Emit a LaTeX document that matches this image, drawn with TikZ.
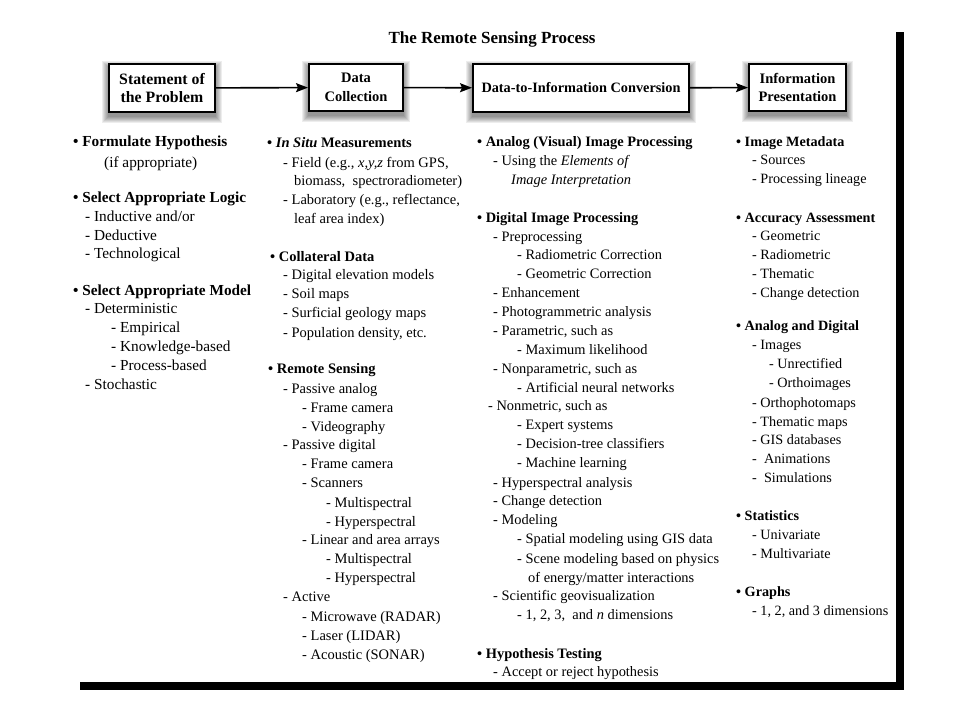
\documentclass[tikz,border=0pt]{standalone}
\usepackage{fontspec}
\setmainfont{Liberation Serif}
\usetikzlibrary{arrows.meta,backgrounds}
\newcommand\colAfont{\fontsize{15.3}{18}\selectfont}
\newcommand\colBfont{\fontsize{14.5}{18}\selectfont}
\newcommand\colCfont{\fontsize{14.4}{18}\selectfont}
\newcommand\colDfont{\fontsize{14.2}{18}\selectfont}
\begin{document}
\begin{tikzpicture}[x=1pt,y=-1pt,
  txt/.style={anchor=base west,inner sep=0pt},
  ta/.style={txt,font=\colAfont},
  tb/.style={txt,font=\colBfont},
  tc/.style={txt,font=\colCfont},
  td/.style={txt,font=\colDfont},
  stage/.style={draw=black,line width=2pt,fill=white,inner sep=0pt,align=center,
    font=\bfseries\fontsize{14.5}{18.5}\selectfont},
  arr/.style={line width=1.6pt,-{Stealth[length=12pt,width=9pt,inset=2pt]}}]
\useasboundingbox (0,0) rectangle (960,720);

\node[font=\bfseries\fontsize{17}{20}\selectfont,anchor=base] (title) at (492,43) {The Remote Sensing Process};

\node[stage,minimum width=106pt,minimum height=48pt,font=\bfseries\fontsize{15.8}{18.5}\selectfont] (b1) at (162,88) {Statement of\\the Problem};
\node[stage,minimum width=94pt,minimum height=47pt] (b2) at (356,87.5) {Data\\Collection};
\node[stage,minimum width=216pt,minimum height=48pt,font=\bfseries\fontsize{14.3}{18.5}\selectfont] (b3) at (581,88) {Data-to-Information Conversion};
\node[stage,minimum width=97pt,minimum height=47pt] (b4) at (797.5,87.5) {Information\\Presentation};

\draw[arr] (b1) -- (b2);
\draw[arr] (b2) -- (b3);
\draw[arr] (b3) -- (b4);

% column 1
\foreach \x/\y/\lbl [count=\i] in {
 73/146/{\textbf{• Formulate Hypothesis}},
 104/167/{(if appropriate)},
 73/202/{\textbf{• Select Appropriate Logic}},
 85/221/{- Inductive and/or},
 85/240/{- Deductive},
 85/258/{- Technological},
 73/295/{\textbf{• Select Appropriate Model}},
 85/313/{- Deterministic},
 111/332/{- Empirical},
 111/351/{- Knowledge-based},
 111/370/{- Process-based},
 85/389/{- Stochastic}}
 {\node[ta] (a\i) at (\x,\y) {\lbl};}

% column 2
\foreach \x/\y/\lbl [count=\i] in {
 267/147/{\textbf{• \textit{In Situ} Measurements}},
 283/167/{- Field (e.g., \textit{x,y,z} from GPS,},
 294/185/{biomass,\ \ spectroradiometer)},
 283/204/{- Laboratory (e.g., reflectance,},
 294/223/{leaf area index)},
 270/261/{\textbf{• Collateral Data}},
 283/279/{- Digital elevation models},
 283/298/{- Soil maps},
 283/317/{- Surficial geology maps},
 283/337/{- Population density, etc.},
 268/373/{\textbf{• Remote Sensing}},
 283/393/{- Passive analog},
 302/412/{- Frame camera},
 302/431/{- Videography},
 283/449/{- Passive digital},
 302/468/{- Frame camera},
 302/487/{- Scanners},
 326/507/{- Multispectral},
 326/526/{- Hyperspectral},
 302/544/{- Linear and area arrays},
 326/563/{- Multispectral},
 326/582/{- Hyperspectral},
 283/601/{- Active},
 302/621/{- Microwave (RADAR)},
 302/640/{- Laser (LIDAR)},
 302/659/{- Acoustic (SONAR)}}
 {\node[tb] (m\i) at (\x,\y) {\lbl};}

% column 3
\foreach \x/\y/\lbl [count=\i] in {
 477/146/{\textbf{• Analog (Visual) Image Processing}},
 493/165/{- Using the \textit{Elements of}},
 511/184/{\textit{Image Interpretation}},
 477/222/{\textbf{• Digital Image Processing}},
 493/241/{- Preprocessing},
 517/259/{- Radiometric Correction},
 517/278/{- Geometric Correction},
 493/297/{- Enhancement},
 493/316/{- Photogrammetric analysis},
 493/335/{- Parametric, such as},
 517/354/{- Maximum likelihood},
 493/373/{- Nonparametric, such as},
 517/392/{- Artificial neural networks},
 488/410/{- Nonmetric, such as},
 517/429/{- Expert systems},
 517/448/{- Decision-tree classifiers},
 517/467/{- Machine learning},
 493/487/{- Hyperspectral analysis},
 493/505/{- Change detection},
 493/524/{- Modeling},
 517/543/{- Spatial modeling using GIS data},
 517/563/{- Scene modeling based on physics},
 528/582/{of energy/matter interactions},
 493/600/{- Scientific geovisualization},
 517/619/{- 1, 2, 3,\ \ and \textit{n} dimensions},
 477/658/{\textbf{• Hypothesis Testing}},
 493/676/{- Accept or reject hypothesis}}
 {\node[tc] (d\i) at (\x,\y) {\lbl};}

% column 4
\foreach \x/\y/\lbl [count=\i] in {
 736/146/{\textbf{• Image Metadata}},
 752/164/{- Sources},
 752/183/{- Processing lineage},
 736/222/{\textbf{• Accuracy Assessment}},
 752/240/{- Geometric},
 752/259/{- Radiometric},
 752/278/{- Thematic},
 752/297/{- Change detection},
 736/330/{\textbf{• Analog and Digital}},
 752/349/{- Images},
 769/368/{- Unrectified},
 769/387/{- Orthoimages},
 752/407/{- Orthophotomaps},
 752/426/{- Thematic maps},
 752/444/{- GIS databases},
 752/463/{-\ \ Animations},
 752/482/{-\ \ Simulations},
 736/520/{\textbf{• Statistics}},
 752/539/{- Univariate},
 752/558/{- Multivariate},
 736/596/{\textbf{• Graphs}},
 752/615/{- 1, 2, and 3 dimensions}}
 {\node[td] (p\i) at (\x,\y) {\lbl};}

% page shadow bars
\fill[black] (896,32) rectangle (904,690);
\fill[black] (80,682) rectangle (904,690);

\begin{scope}[on background layer]
\fill[white] (0,0) rectangle (960,720);
\foreach \b in {b1,b2,b3,b4}{
  \foreach \s in {0,...,6}{
    \fill[black,opacity=0.07] ([shift={(-\s,4+\s)}]\b.south west) rectangle ([shift={(\s,4-\s)}]\b.north east);
  }
}
\end{scope}
\end{tikzpicture}
\end{document}
